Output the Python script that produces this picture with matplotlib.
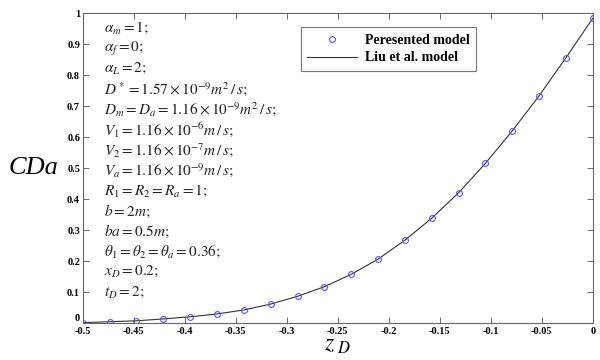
import matplotlib
matplotlib.use("Agg")
import matplotlib.pyplot as plt

plt.rcParams['mathtext.fontset'] = 'stix'
plt.rcParams['font.family'] = ['Liberation Serif', 'DejaVu Serif']

# Data
zD = [-0.5, -0.4737, -0.4474, -0.4211, -0.3947, -0.3684, -0.3421, -0.3158,
      -0.2895, -0.2632, -0.2368, -0.2105, -0.1842, -0.1579, -0.1316, -0.1053,
      -0.0789, -0.0526, -0.0263, 0.0]
cda_presented = [0.002, 0.005, 0.008, 0.014, 0.021, 0.030, 0.043, 0.062,
                 0.087, 0.118, 0.158, 0.207, 0.268, 0.339, 0.421, 0.516,
                 0.621, 0.734, 0.857, 0.984]
cda_liu = [0.002, 0.005, 0.008, 0.014, 0.021, 0.030, 0.043, 0.062,
           0.087, 0.118, 0.158, 0.207, 0.268, 0.339, 0.421, 0.516,
           0.621, 0.734, 0.857, 0.984]

xticks = [-0.5, -0.45, -0.4, -0.35, -0.3, -0.25, -0.2, -0.15, -0.1, -0.05, 0]
xticklabels = ['-0.5', '-0.45', '-0.4', '-0.35', '-0.3', '-0.25', '-0.2',
               '-0.15', '-0.1', '-0.05', '0']
yticks = [0, 0.1, 0.2, 0.3, 0.4, 0.5, 0.6, 0.7, 0.8, 0.9, 1]
yticklabels = ['0', '0.1', '0.2', '0.3', '0.4', '0.5', '0.6', '0.7', '0.8', '0.9', '1']

params = [
    r'$\alpha_m=1;$',
    r'$\alpha_f=0;$',
    r'$\alpha_L=2;$',
    r'$D^*=1.57\times10^{-9}m^2\,/\,s;$',
    r'$D_m=D_a=1.16\times10^{-9}m^2\,/\,s;$',
    r'$V_1=1.16\times10^{-6}m\,/\,s;$',
    r'$V_2=1.16\times10^{-7}m\,/\,s;$',
    r'$V_a=1.16\times10^{-9}m\,/\,s;$',
    r'$R_1=R_2=R_a=1;$',
    r'$b=2m;$',
    r'$ba=0.5m;$',
    r'$\theta_1=\theta_2=\theta_a=0.36;$',
    r'$x_D=0.2;$',
    r'$t_D=2;$',
]

fig = plt.figure(figsize=(6, 3.6), dpi=100)
ax = fig.add_axes([0.138, 0.102, 0.850, 0.861])

ax.plot(zD, cda_liu, color='#333333', lw=0.8, label='Liu et al. model')
ax.plot(zD, cda_presented, ls='none', marker='o', ms=4.2, mfc='none',
        mec='#5555ff', mew=0.8, label='Peresented model')

ax.set_xlim(-0.5, 0)
ax.set_ylim(0, 1)
ax.set_xticks(xticks)
ax.set_xticklabels(xticklabels)
ax.set_yticks(yticks)
ax.set_yticklabels(yticklabels)
ax.tick_params(direction='in', top=True, right=True, length=4, width=0.6,
               color='#555555', labelsize=7.5, pad=2)
ax.tick_params(axis='x', pad=2.5)
for lab in ax.get_xticklabels() + ax.get_yticklabels():
    lab.set_fontweight('bold')
ax.get_yticklabels()[0].set_verticalalignment('bottom')
for sp in ax.spines.values():
    sp.set_color('#666666')
    sp.set_linewidth(0.8)

ax.set_ylabel('CDa', fontsize=19, fontstyle='italic', rotation=0, labelpad=24,
              va='center')
ax.set_xlabel(r'$z_{\ D}$', fontsize=17, labelpad=-0.5)

y0 = 0.952
dy = 0.0655
for i, s in enumerate(params):
    ax.text(-0.4795, y0 - i * dy, s, fontsize=11, va='center', ha='left',
            color='#222222')

handles, labels = ax.get_legend_handles_labels()
leg = ax.legend(handles[::-1], labels[::-1], loc='upper left',
                bbox_to_anchor=(0.4275, 0.955), borderaxespad=0,
                fancybox=False, frameon=True,
                prop={'weight': 'bold', 'size': 10}, handlelength=3.6,
                borderpad=0.45, labelspacing=0.35, handletextpad=0.6)
leg.get_frame().set_edgecolor('#555555')
leg.get_frame().set_linewidth(0.8)

fig.savefig('out.png', dpi=100)
